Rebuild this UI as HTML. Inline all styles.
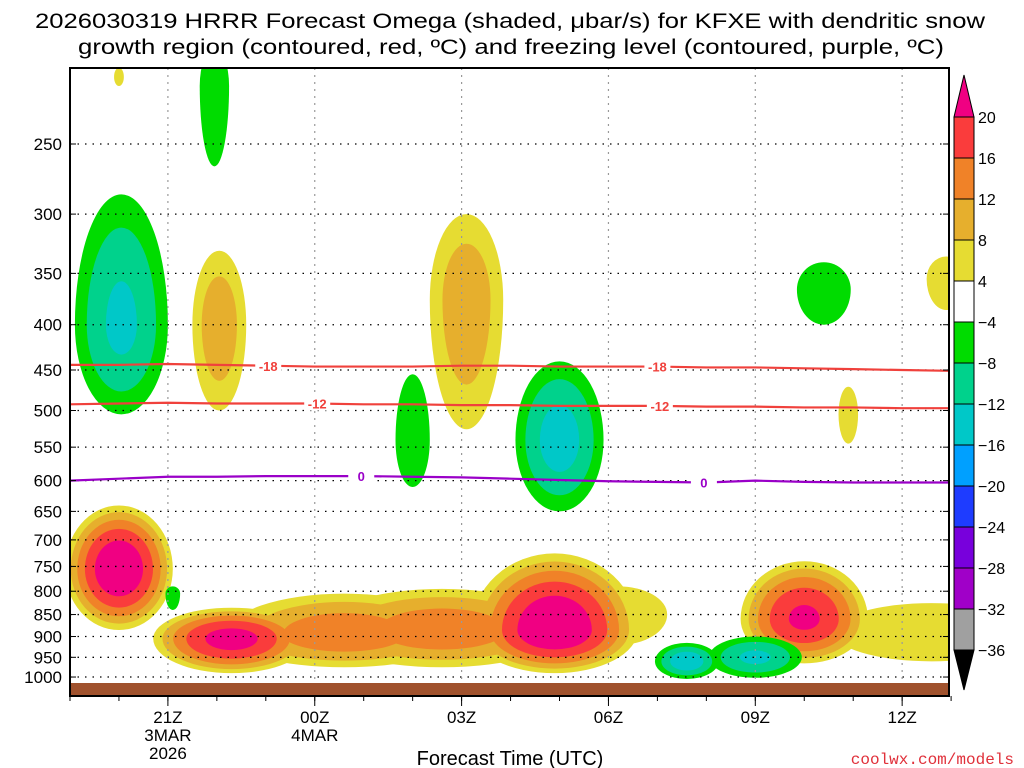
<!DOCTYPE html>
<html><head><meta charset="utf-8"><style>
body{margin:0;background:#fff;}
svg{display:block;font-family:"Liberation Sans",sans-serif;}
</style></head><body>
<svg id="chart" width="1024" height="768" viewBox="0 0 1024 768" xmlns="http://www.w3.org/2000/svg">
<text x="35" y="28" font-size="21" textLength="950" lengthAdjust="spacingAndGlyphs">2026030319 HRRR Forecast Omega (shaded, μbar/s) for KFXE with dendritic snow</text>
<text x="78" y="54" font-size="21" textLength="866" lengthAdjust="spacingAndGlyphs">growth region (contoured, red, ºC) and freezing level (contoured, purple, ºC)</text>
<defs><clipPath id="plotclip"><rect x="70" y="68" width="879" height="628"/></clipPath></defs>
<g id="shades" clip-path="url(#plotclip)"></g>
<g id="grid"></g>
<rect x="70" y="683" width="879" height="12" fill="#a0522d"/>
<g id="contours" clip-path="url(#plotclip)"></g>
<rect x="70" y="68" width="879" height="628" fill="none" stroke="#000" stroke-width="2"/>
<g id="axes"></g>
<g id="cbar"></g>
<text x="510" y="765" font-size="20" text-anchor="middle">Forecast Time (UTC)</text>
<text x="1014" y="764" font-size="16" fill="#e0303a" text-anchor="end" font-family="Liberation Mono, monospace">coolwx.com/models</text>
</svg>
<script>
// ---- data ----
const pressureTicks = [250,300,350,400,450,500,550,600,650,700,750,800,850,900,950,1000];
const timeTickHours = [2,5,8,11,14,17];
const timeTickLabels = ["21Z","00Z","03Z","06Z","09Z","12Z"];
const timeTickSub1 = ["3MAR","4MAR","","","",""];
const timeTickSub2 = ["2026","","","","",""];
// blobs: centre hour (since 19Z), centre pressure, half-width (h), top p, bottom p, peak omega
const blobHour   = [1.0, 3.3, 5.6, 7.6, 9.9, 11.2, 15.0, 17.6, 8.1, 3.05, 17.9, 15.9, 1.0,  1.05, 2.95, 7.0, 10.0, 12.6, 14.0, 15.4, 2.1];
const blobP      = [755, 905, 895, 885, 885, 850,  860,  890,  375, 400,  355,  505,  210,  400,  215,  540, 540,  960,  950,  365,  805];
const blobHalfW  = [1.1, 1.6, 2.4, 2.5, 1.7, 1.0,  1.3,  2.0,  0.75,0.55, 0.4,  0.2,  0.1,  0.95, 0.3,  0.35,0.9,  0.65, 0.95, 0.55, 0.15];
const blobTopP   = [640, 835, 805, 795, 725, 790,  740,  825,  300, 330,  335,  470,  205,  285,  195,  455, 440,  915,  900,  340,  790];
const blobBotP   = [885, 990, 975, 975, 990, 920,  965,  960,  525, 500,  385,  545,  215,  505,  265,  610, 650,  1005, 1002, 400,  840];
const blobPeak   = [24,  22,  15,  15,  24,  6,    21,   7,    11,  11,   6,    6,    5,    -13,  -6,   -6,  -14,  -15,  -13,  -6,   -5];
// contour lines (pressure at each hour 0..18)
const lineHours = [0,1,2,3,4,5,6,7,8,9,10,11,12,13,14,15,16,17,18];
const iso18 = [444,444,443,444,445,446,446,446,445,445,446,446,446,447,447,448,449,450,451];
const iso12 = [492,491,490,491,491,491,492,492,493,493,494,494,494,495,495,496,496,497,497];
const iso0  = [600,597,594,594,593,593,593,594,595,597,599,601,602,603,600,602,603,603,603];
const levels = [4,8,12,16,20];
const posColors = ["#e6dc32","#e6af2d","#f08228","#fa3c3c","#f00082"];
const negColors = ["#00dc00","#00d28c","#00c8c8","#00a0ff","#1e3cff","#7800dc","#a000c8","#a0a0a0"];
const cbarLabels = ["20","16","12","8","4","−4","−8","−12","−16","−20","−24","−28","−32","−36"];
const cbarColors = ["#fa3c3c","#f08228","#e6af2d","#e6dc32","#ffffff","#00dc00","#00d28c","#00c8c8","#00a0ff","#1e3cff","#7800dc","#a000c8","#a0a0a0"];
// ---- axes ----
const X = h => 70 + h*48.95;
const Y = p => 144 + Math.log(p/250)*384.5;
const NS="http://www.w3.org/2000/svg";
function mk(tag, attrs, parent){const e=document.createElementNS(NS,tag);for(const k in attrs)e.setAttribute(k,attrs[k]);parent.appendChild(e);return e;}
const shades=document.getElementById('shades');
function blobPath(i,r){
  const cx=X(blobHour[i]), cy=Y(blobP[i]);
  const rx=blobHalfW[i]*48.95*r, r1=(cy-Y(blobTopP[i]))*r, r2=(Y(blobBotP[i])-cy)*r;
  return `M${cx-rx},${cy} A${rx},${r1} 0 0 1 ${cx+rx},${cy} A${rx},${r2} 0 0 1 ${cx-rx},${cy}Z`;
}
levels.forEach((L,li)=>{
  blobPeak.forEach((P,i)=>{
    if(P<=0||P<=L) return;
    const r = Math.sqrt(1 - (L-4)/(P-4));
    const e=mk('path',{d:blobPath(i,r),fill:posColors[li]},shades);
    
    
  });
});
[-4,-8,-12,-16].forEach((L,li)=>{
  blobPeak.forEach((P,i)=>{
    if(P>=0||P>=L) return;
    const r = Math.sqrt(1 - (L+4)/(P+4));
    const e=mk('path',{d:blobPath(i,r),fill:negColors[li]},shades);
    
    
  });
});
// grid & axes
const grid=document.getElementById('grid'), axes=document.getElementById('axes');
pressureTicks.forEach(p=>{
  const y=Y(p);
  const g=mk('line',{x1:70,x2:949,y1:y,y2:y,stroke:'#000','stroke-width':1.3,'stroke-dasharray':'1.5,6'},grid);
  
  
  const t=mk('text',{x:62,y:y+6,'font-size':17,'text-anchor':'end'},axes);
  t.textContent=p;
  
  
  mk('line',{x1:70,x2:76,y1:y,y2:y,stroke:'#000'},axes);
  mk('line',{x1:943,x2:949,y1:y,y2:y,stroke:'#000'},axes);
});
timeTickHours.forEach((h,i)=>{
  const x=X(h);
  const g=mk('line',{x1:x,x2:x,y1:68,y2:696,stroke:'#999','stroke-width':1.2,'stroke-dasharray':'2,5'},grid);
  
  
  mk('line',{x1:x,x2:x,y1:696,y2:706,stroke:'#000'},axes);
  [timeTickLabels[i],timeTickSub1[i],timeTickSub2[i]].forEach((s,k)=>{
    if(!s) return;
    const t=mk('text',{x:x,y:723+k*18,'font-size':17,'text-anchor':'middle'},axes);
    t.textContent=s;
    
    
  });
});
for(let h=0;h<=18;h++){mk('line',{x1:X(h),x2:X(h),y1:696,y2:701,stroke:'#000'},axes);}
// contours
const cont=document.getElementById('contours');
function drawLine(arr,color,name,labels,lab){
  const d=lineHours.map((h,i)=>(i?'L':'M')+X(h)+','+Y(arr[i])).join(' ');
  const e=mk('path',{d:d,fill:'none',stroke:color,'stroke-width':2.2},cont);
  
  
  labels.forEach(h=>{
    const i=Math.floor(h), f=h-i, p=arr[i]+(arr[i+1]-arr[i])*f, x=X(h), y=Y(p);
    mk('rect',{x:x-13,y:y-7,width:26,height:14,fill:'#fff'},cont);
    const t=mk('text',{x:x,y:y+5,'font-size':13,'font-weight':'bold',fill:color,'text-anchor':'middle'},cont);
    t.textContent=lab;
    
    
  });
}
drawLine(iso18,'#f0413c','isotherm-minus18',[4.05,12.0],'-18');
drawLine(iso12,'#f0413c','isotherm-minus12',[5.05,12.05],'-12');
drawLine(iso0,'#9a00c8','freezing-level',[5.95,12.95],'0');
// colorbar
const cb=document.getElementById('cbar');
const cbx=954, cbw=20, top0=117, step=41;
cbarColors.forEach((c,i)=>{
  const r=mk('rect',{x:cbx,y:top0+i*step,width:cbw,height:step,fill:c,stroke:'#000','stroke-width':1},cb);
  
  
});
mk('polygon',{points:`${cbx},${top0} ${cbx+cbw},${top0} ${cbx+cbw/2},75`,fill:'#f00082',stroke:'#000'},cb);
const bot=top0+13*step;
mk('polygon',{points:`${cbx},${bot} ${cbx+cbw},${bot} ${cbx+cbw/2},690`,fill:'#000',stroke:'#000'},cb);
cbarLabels.forEach((s,i)=>{
  const t=mk('text',{x:978,y:top0+i*step+6,'font-size':16},cb);
  t.textContent=s;
  
  
});
</script>
</body></html>
